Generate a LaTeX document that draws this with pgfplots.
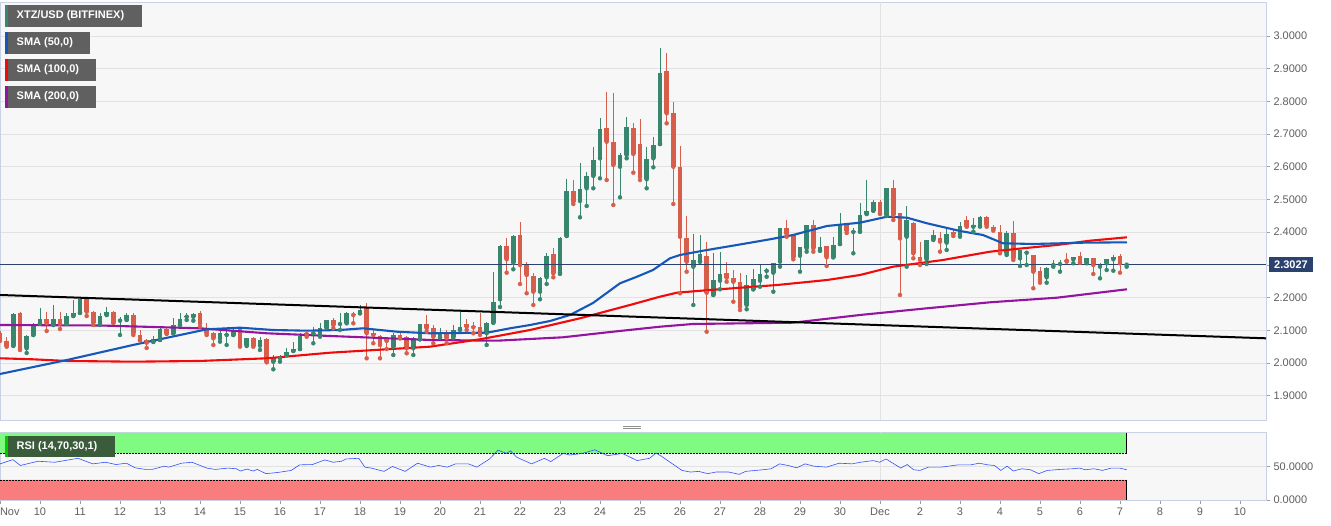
\documentclass[border=0pt]{standalone}
\usepackage{pgfplots}
\pgfplotsset{compat=1.18}
\usepackage{pgfplotstable}
\usepackage{fontspec}
\setmainfont{Liberation Sans}
\definecolor{cgreen}{RGB}{56,134,110}
\definecolor{cred}{RGB}{216,94,76}
\definecolor{smablue}{RGB}{22,88,186}
\definecolor{smared}{RGB}{240,10,10}
\definecolor{smapurple}{RGB}{148,20,160}
\definecolor{bggray}{RGB}{247,247,247}
\definecolor{gridgray}{RGB}{226,226,226}
\definecolor{bordercol}{RGB}{200,210,228}
\definecolor{labelgray}{RGB}{95,95,95}
\definecolor{legendgray}{RGB}{96,96,96}
\definecolor{navy}{RGB}{44,66,110}
\definecolor{bandgreen}{RGB}{128,250,128}
\definecolor{bandred}{RGB}{250,125,125}
\definecolor{rsiblue}{RGB}{50,80,255}
\definecolor{rsibox}{RGB}{58,92,58}
\definecolor{rsistrip}{RGB}{0,205,0}
\newcommand{\lblfont}{\fontsize{11}{13}\selectfont}

% candles: i = 4-hour candle index (6 per day, 0 = Nov 9 00:00)
\pgfplotstableread{
i o h l c
2 2.0529 2.1520 2.0520 2.1499
4 2.0450 2.0856 2.0306 2.0826
5 2.0856 2.1214 2.0856 2.1162
6 2.1214 2.1682 2.1193 2.1337
8 2.1162 2.1774 2.1162 2.1346
10 2.1193 2.1529 2.1193 2.1437
11 2.1437 2.1927 2.1437 2.1538
12 2.1538 2.2028 2.1529 2.1957
15 2.1233 2.1529 2.1162 2.1437
16 2.1468 2.1722 2.1468 2.1569
18 2.1294 2.1416 2.0856 2.1346
19 2.1337 2.1520 2.1315 2.1468
23 2.0652 2.0826 2.0642 2.0734
24 2.0704 2.1061 2.0704 2.1031
26 2.0908 2.1376 2.0908 2.1162
27 2.1162 2.1529 2.1162 2.1337
28 2.1416 2.1520 2.1315 2.1437
29 2.1416 2.1520 2.1294 2.1499
33 2.0755 2.1009 2.0652 2.0927
34 2.0856 2.1009 2.0551 2.0887
35 2.0856 2.1061 2.0856 2.0988
37 2.0551 2.0765 2.0520 2.0755
39 2.0529 2.0804 2.0398 2.0704
41 2.0040 2.0245 1.9807 2.0174
42 2.0144 2.0245 2.0040 2.0193
43 2.0245 2.0450 2.0245 2.0346
44 2.0367 2.0652 2.0367 2.0419
45 2.0428 2.0908 2.0428 2.0826
47 2.0908 2.1110 2.0603 2.0927
48 2.0856 2.1214 2.0804 2.1061
49 2.1080 2.1315 2.1070 2.1315
51 2.1193 2.1520 2.1009 2.1233
52 2.1233 2.1569 2.1214 2.1520
54 2.1520 2.1774 2.1520 2.1621
59 2.0499 2.0908 2.0245 2.0856
62 2.0450 2.0804 2.0245 2.0755
63 2.0725 2.1193 2.0725 2.1193
66 2.0786 2.1061 2.0786 2.0957
68 2.0804 2.1162 2.0765 2.1009
69 2.1031 2.1569 2.1009 2.1110
73 2.0908 2.1263 2.0551 2.1214
74 2.1233 2.2792 2.1233 2.1875
75 2.1948 2.3609 2.1713 2.3578
77 2.3067 2.3914 2.2866 2.3893
81 2.2181 2.2639 2.1948 2.2590
82 2.2621 2.3373 2.2416 2.3272
84 2.2762 2.3853 2.2722 2.3813
85 2.3884 2.5618 2.3884 2.5260
87 2.4954 2.6107 2.4456 2.5312
88 2.5343 2.5850 2.4801 2.5719
89 2.5719 2.6615 2.5343 2.6208
90 2.6260 2.7483 2.5648 2.7147
93 2.6003 2.6413 2.5067 2.6361
94 2.6361 2.7514 2.6260 2.7226
97 2.5618 2.6596 2.5343 2.6229
98 2.6260 2.6921 2.5985 2.6667
99 2.6697 2.9624 2.6697 2.8878
104 2.2945 2.3945 2.1774 2.3150
105 2.3098 2.3914 2.3098 2.3333
107 2.2080 2.3355 2.2080 2.2538
108 2.2517 2.3404 2.2254 2.2713
112 2.1774 2.2691 2.1642 2.2385
113 2.2254 2.2866 2.2254 2.2569
114 2.2517 2.3028 2.2333 2.2713
115 2.2814 2.2896 2.2639 2.2844
116 2.2762 2.3067 2.2181 2.3067
117 2.3098 2.4119 2.2945 2.4119
120 2.3281 2.3557 2.2792 2.3557
121 2.3508 2.4220 2.3404 2.4220
123 2.3434 2.3844 2.3434 2.3538
125 2.3233 2.3862 2.3233 2.3609
126 2.3639 2.4578 2.3639 2.4220
128 2.4006 2.4119 2.3355 2.4037
129 2.4015 2.4902 2.4015 2.4526
130 2.4557 2.5596 2.4557 2.4658
131 2.4658 2.4985 2.4658 2.4933
133 2.4526 2.5343 2.4496 2.5343
136 2.3862 2.4801 2.2945 2.4373
139 2.3171 2.3762 2.3028 2.3762
140 2.3783 2.4067 2.3762 2.3914
142 2.3679 2.4119 2.3456 2.3945
144 2.3914 2.4321 2.3862 2.4190
146 2.4168 2.4425 2.4015 2.4220
147 2.4190 2.4496 2.4168 2.4456
151 2.3355 2.4046 2.3303 2.3985
153 2.3202 2.3456 2.2967 2.3456
154 2.3373 2.3404 2.2997 2.3404
157 2.2621 2.2945 2.2456 2.2896
158 2.2997 2.3150 2.2945 2.3028
159 2.3028 2.3150 2.2792 2.3049
161 2.3171 2.3251 2.3049 2.3251
163 2.3067 2.3202 2.3049 2.3202
165 2.2945 2.3067 2.2590 2.3028
166 2.3049 2.3171 2.2844 2.3171
167 2.3171 2.3303 2.2823 2.3251
169 2.3006 2.3049 2.2945 2.3027
}\greenT

\pgfplotstableread{
i o h l c
0 2.0908 2.0979 2.0673 2.0734
1 2.0682 2.0804 2.0499 2.0529
3 2.1520 2.1560 2.0398 2.0450
7 2.1337 2.1560 2.0979 2.1214
9 2.1346 2.1560 2.1040 2.1193
13 2.1957 2.1988 2.1437 2.1569
14 2.1569 2.1590 2.1162 2.1233
17 2.1569 2.1590 2.1223 2.1233
20 2.1468 2.1520 2.0856 2.0908
21 2.0856 2.1009 2.0690 2.0704
22 2.0704 2.0734 2.0459 2.0621
25 2.1031 2.1061 2.0887 2.0908
30 2.1520 2.1600 2.1110 2.1214
31 2.1061 2.1214 2.0856 2.0908
32 2.0908 2.0957 2.0551 2.0755
36 2.1061 2.1110 2.0499 2.0551
38 2.0755 2.0804 2.0499 2.0529
40 2.0725 2.0755 2.0020 2.0040
46 2.0908 2.0957 2.0804 2.0887
50 2.1315 2.1367 2.1061 2.1162
53 2.1499 2.1569 2.1214 2.1468
55 2.1673 2.1844 2.0144 2.0908
56 2.0908 2.1009 2.0603 2.0856
57 2.0826 2.0856 2.0144 2.0551
58 2.0734 2.0765 2.0428 2.0673
60 2.0856 2.0908 2.0755 2.0755
61 2.0786 2.0826 2.0297 2.0450
64 2.1193 2.1468 2.0957 2.1061
65 2.1061 2.1162 2.0603 2.0804
67 2.0927 2.1009 2.0603 2.0755
70 2.1193 2.1337 2.1009 2.1110
71 2.1132 2.1263 2.0908 2.1092
72 2.1110 2.1520 2.0856 2.0908
76 2.3587 2.3813 2.2762 2.3171
78 2.3914 2.4321 2.2416 2.2997
79 2.2997 2.3098 2.2132 2.2691
80 2.2661 2.2743 2.1774 2.2181
83 2.3333 2.3508 2.2621 2.2743
86 2.5260 2.5596 2.4862 2.4933
91 2.7178 2.8297 2.5596 2.6768
92 2.6768 2.8248 2.4832 2.6055
95 2.7178 2.7349 2.5820 2.6392
96 2.6697 2.7453 2.5596 2.5697
100 2.8939 2.9471 2.7330 2.7636
101 2.7636 2.7991 2.4862 2.6003
102 2.5985 2.6636 2.2132 2.3862
103 2.3813 2.4496 2.2792 2.3098
106 2.3272 2.3710 2.0957 2.2150
109 2.2743 2.3098 2.2486 2.2609
110 2.2590 2.2844 2.1875 2.2486
111 2.2486 2.2743 2.1621 2.1722
118 2.4119 2.4373 2.3862 2.3945
119 2.3914 2.3914 2.3171 2.3233
122 2.4220 2.4373 2.3404 2.3508
124 2.3578 2.3578 2.2967 2.3233
127 2.4220 2.4272 2.3976 2.4046
132 2.4933 2.4985 2.4557 2.4578
134 2.5343 2.5596 2.4373 2.4526
135 2.4578 2.4596 2.2080 2.3813
137 2.4291 2.4321 2.3202 2.3355
138 2.3233 2.3710 2.2997 2.3150
141 2.3813 2.4015 2.3404 2.3710
143 2.4015 2.4067 2.3884 2.3945
145 2.4373 2.4496 2.4168 2.4190
148 2.4456 2.4496 2.4168 2.4220
149 2.4168 2.4220 2.4046 2.4089
150 2.4015 2.4220 2.3355 2.3373
152 2.3985 2.4352 2.3150 2.3202
155 2.3303 2.3303 2.2285 2.2792
156 2.2823 2.2945 2.2456 2.2538
160 2.3150 2.3355 2.3098 2.3128
162 2.3272 2.3404 2.3067 2.3067
164 2.3202 2.3202 2.2722 2.2997
168 2.3272 2.3333 2.2762 2.3049
}\redT

\pgfplotstableread{
x y
0 1.9664
10.05 2.0092
19.95 2.0551
27 2.0856
31.05 2.1031
36 2.1080
40.95 2.1009
46 2.0988
51 2.1009
54.45 2.1061
59.55 2.0957
64.5 2.0908
73.05 2.0927
76.5 2.1061
79.5 2.1162
82.5 2.1284
85.5 2.1468
88.95 2.1835
93 2.2437
95.55 2.2639
97.95 2.2844
100.5 2.3202
102 2.3303
105.45 2.3434
110.55 2.3609
115.5 2.3783
118.95 2.3914
124.05 2.4190
129 2.4291
133.05 2.4474
136.05 2.4444
139.05 2.4272
144 2.4037
147.45 2.3914
150.45 2.3661
154.95 2.3639
162.45 2.3679
169.05 2.3691
}\smaA

\pgfplotstableread{
x y
0 2.0144
4.95 2.0113
10.05 2.0062
19.95 2.0040
30 2.0062
40.05 2.0144
49.5 2.0315
64.5 2.0499
72 2.0725
79.5 2.1009
87 2.1367
94.5 2.1774
99 2.2028
101.55 2.2150
106.5 2.2233
116.55 2.2385
124.05 2.2538
129 2.2691
133.95 2.2945
141.45 2.3150
148.5 2.3404
153.45 2.3508
158.55 2.3609
163.5 2.3740
169.05 2.3844
}\smaB

\pgfplotstableread{
x y
0 2.1162
15 2.1147
30 2.1061
40.05 2.0908
49.5 2.0826
64.5 2.0704
74.55 2.0682
84.45 2.0786
91.95 2.0957
99 2.1110
103.95 2.1193
118.95 2.1233
129 2.1468
139.05 2.1673
148.5 2.1856
158.55 2.1997
169.05 2.2254
}\smaC

\pgfplotstableread{
x r
0 53.9
1.92 60.2
3.06 51.5
5.7 57.8
8.22 56.3
11.7 62.2
13.92 53.9
15.84 56.3
17.4 52.9
18.96 54.9
20.28 48.0
21.84 45.6
22.8 45.6
24.66 50.5
25.32 49.0
27.24 54.9
28.8 56.3
31.02 47.6
32.28 45.6
34.2 47.6
35.46 46.6
36.06 43.2
37.02 46.1
37.98 43.2
38.58 45.6
39.9 39.3
41.76 41.2
43.68 44.1
44.94 52.4
46.86 52.9
48.72 59.8
49.98 56.3
51.24 57.8
51.9 61.2
53.82 62.2
54.72 49.0
55.68 47.6
57.6 42.7
58.86 50.0
60.78 42.7
62.64 54.9
64.56 49.0
65.82 51.5
67.08 49.0
68.34 53.9
70.26 53.9
71.52 49.0
73.44 61.2
74.7 74.4
75.96 69.5
76.56 73.4
77.52 63.7
79.74 53.9
81.66 62.2
82.62 57.3
84.48 69.5
85.44 67.1
87.36 69.5
89.22 74.9
91.14 66.1
93.36 69.5
95.58 58.8
97.44 62.2
98.4 70.0
99.24 65.1
102.3 44.1
103.56 41.7
104.82 42.7
106.14 39.3
107.4 41.7
109.32 41.7
110.88 38.3
111.84 42.7
114.42 45.1
115.68 46.6
116.94 53.9
118.2 51.5
119.52 48.0
120.78 53.9
122.04 50.5
123.96 49.0
125.88 54.9
127.8 53.9
129.06 56.3
130.98 58.8
131.94 56.3
132.9 61.2
135.12 47.6
136.08 52.9
137.04 45.1
138.0 44.1
139.26 49.0
141.18 49.0
143.7 52.4
145.62 52.4
146.88 54.9
148.2 52.4
149.16 51.5
150.12 44.1
151.08 50.5
151.98 43.2
153.3 46.6
154.56 45.1
155.82 39.3
157.08 44.1
159.0 45.6
160.92 46.6
161.88 47.6
162.84 45.1
164.1 46.6
165.36 44.1
166.68 47.6
167.94 47.6
169.02 45.1
}\rsiT

\pgfplotsset{
  wick/.style={only marks, mark=none, forget plot,
    error bars/.cd, y dir=plus, y explicit, error mark=none,
    error bar style={line width=0.9pt, solid}},
  body/.style={only marks, mark=none, forget plot,
    error bars/.cd, y dir=plus, y explicit, error mark=none,
    error bar style={line width=4.7pt, solid}},
}

\begin{document}
\begin{tikzpicture}
\useasboundingbox (0pt,0pt) rectangle (1331pt,526pt);
\fill[white] (0pt,0pt) rectangle (1331pt,526pt);

\begin{axis}[
  at={(0pt,106pt)}, anchor=south west,
  scale only axis, width=1266pt, height=418pt,
  xmin=0, xmax=189.9, ymin=1.8257, ymax=3.104,
  axis background/.style={fill=bggray},
  axis line style={draw=bordercol, line width=0.8pt},
  xtick=\empty,
  extra x ticks={132}, extra x tick labels={},
  extra x tick style={grid=major, major tick length=0pt},
  ytick={1.9,2.0,2.1,2.2,2.3,2.4,2.5,2.6,2.7,2.8,2.9,3.0},
  ytick pos=right, yticklabel pos=right,
  ymajorgrids, grid style={gridgray, line width=0.8pt},
  tick align=outside, major tick length=4pt,
  tick style={draw=labelgray!60, line width=0.6pt},
  scaled y ticks=false,
  y tick label style={font=\lblfont, text=labelgray, /pgf/number format/.cd, fixed, fixed zerofill, precision=4, assume math mode=true, /tikz/.cd},
  clip=false,
]
\addplot[cgreen, wick] table[x=i, y=l, y error expr=\thisrow{h}-\thisrow{l}] {\greenT};
\addplot[cgreen, body] table[x=i, y=o, y error expr=\thisrow{c}-\thisrow{o}] {\greenT};
\addplot[cred, wick] table[x=i, y=l, y error expr=\thisrow{h}-\thisrow{l}] {\redT};
\addplot[cred, body] table[x=i, y=c, y error expr=\thisrow{o}-\thisrow{c}] {\redT};
\addplot[navy, line width=0.8pt, forget plot] coordinates {(0,2.3027) (189.9,2.3027)};
\addplot[smapurple, line width=2.1pt, forget plot] table[x=x, y=y] {\smaC};
\addplot[smared, line width=2.1pt, forget plot] table[x=x, y=y] {\smaB};
\addplot[smablue, line width=2.1pt, forget plot] table[x=x, y=y] {\smaA};
\addplot[black, line width=2pt, forget plot] coordinates {(0,2.2080) (189.9,2.0755)};
\end{axis}

\begin{axis}[
  at={(0pt,26pt)}, anchor=south west,
  scale only axis, width=1266pt, height=67.7pt,
  xmin=0, xmax=189.9, ymin=0, ymax=101,
  axis background/.style={fill=bggray},
  axis line style={draw=bordercol, line width=0.8pt},
  xtick={0,6,...,186},
  xticklabels={{\makebox[0pt][l]{Nov}},10,11,12,13,14,15,16,17,18,19,20,21,22,23,24,25,26,27,28,29,30,Dec,2,3,4,5,6,7,8,9,10},
  xtick pos=bottom,
  extra x ticks={132}, extra x tick labels={},
  extra x tick style={grid=major, major tick length=0pt},
  ytick={0,50}, yticklabels={0.0000,50.0000},
  ytick pos=right, yticklabel pos=right,
  ymajorgrids, grid style={gridgray, line width=0.8pt},
  tick align=outside, major tick length=4pt,
  tick style={draw=labelgray!60, line width=0.6pt},
  tick label style={font=\lblfont, text=labelgray},
  clip=false,
]
\addplot[fill=bandgreen, draw=none, forget plot] coordinates {(0,70) (169,70) (169,100) (0,100) (0,70)};
\addplot[fill=bandred, draw=none, forget plot] coordinates {(0,0) (169,0) (169,30) (0,30) (0,0)};
\addplot[black, line width=0.6pt, dash pattern=on 2pt off 1pt, forget plot] coordinates {(0,70) (169,70)};
\addplot[black, line width=0.6pt, dash pattern=on 2pt off 1pt, forget plot] coordinates {(0,30) (169,30)};
\addplot[black, line width=0.9pt, forget plot] coordinates {(169,70) (169,100)};
\addplot[black, line width=0.9pt, forget plot] coordinates {(169,0) (169,30)};
\addplot[rsiblue, line width=0.6pt, forget plot] table[x=x, y=r] {\rsiT};
\end{axis}

% panel separator grip
\draw[labelgray!70, line width=0.6pt] (623pt,100pt) -- (641pt,100pt);
\draw[labelgray!70, line width=0.6pt] (623pt,97.5pt) -- (641pt,97.5pt);

% legend boxes
\fill[legendgray] (5pt,499pt) rectangle (142pt,521pt);
\fill[cgreen] (5pt,499pt) rectangle (7.7pt,521pt);
\node[anchor=west, text=white, font=\lblfont\bfseries, inner sep=0pt] at (16.5pt,510pt) {XTZ/USD (BITFINEX)};
\fill[legendgray] (5pt,472pt) rectangle (90pt,494pt);
\fill[smablue] (5pt,472pt) rectangle (7.7pt,494pt);
\node[anchor=west, text=white, font=\lblfont\bfseries, inner sep=0pt] at (16.5pt,483pt) {SMA (50,0)};
\fill[legendgray] (5pt,445pt) rectangle (96pt,467pt);
\fill[smared] (5pt,445pt) rectangle (7.7pt,467pt);
\node[anchor=west, text=white, font=\lblfont\bfseries, inner sep=0pt] at (16.5pt,456pt) {SMA (100,0)};
\fill[legendgray] (5pt,418pt) rectangle (96pt,440pt);
\fill[smapurple] (5pt,418pt) rectangle (7.7pt,440pt);
\node[anchor=west, text=white, font=\lblfont\bfseries, inner sep=0pt] at (16.5pt,429pt) {SMA (200,0)};

% RSI label
\fill[rsibox] (5pt,69pt) rectangle (115pt,90pt);
\fill[rsistrip] (5pt,69pt) rectangle (8pt,90pt);
\node[anchor=west, text=white, font=\lblfont\bfseries, inner sep=0pt] at (16.5pt,79.5pt) {RSI (14,70,30,1)};

% last price tag
\fill[navy] (1269pt,254pt) rectangle (1313pt,269pt);
\node[text=white, font=\lblfont\bfseries, inner sep=0pt] at (1291pt,261.5pt) {2.3027};
\end{tikzpicture}
\end{document}
